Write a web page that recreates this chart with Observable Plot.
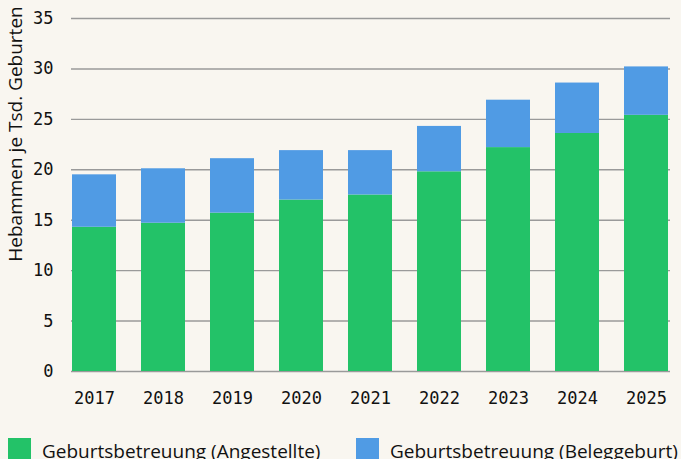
<!DOCTYPE html>
<html><head><meta charset="utf-8">
<script src="https://cdn.jsdelivr.net/npm/d3@7"></script>
<script src="https://cdn.jsdelivr.net/npm/@observablehq/plot@0.6"></script>
<style>
html,body{margin:0;padding:0;background:#f9f6f0;}
#chart{position:relative;width:681px;height:459px;overflow:hidden;background:#f9f6f0;}
#chart svg{position:absolute;left:0;top:0;}
.lg{position:absolute;top:438px;height:23px;display:flex;align-items:flex-start;font-family:"Open Sans";font-size:19px;color:#111;white-space:nowrap;}
.sw{width:23px;height:23px;margin-right:11px;flex:none;}
.lt{line-height:23px;margin-top:2px;}
</style></head><body><div id="chart"></div>
<script>
const years = ["2017","2018","2019","2020","2021","2022","2023","2024","2025"];
const angestellte = [14.3,14.7,15.7,17.0,17.5,19.8,22.2,23.6,25.4];
const beleggeburt = [5.2,5.4,5.4,4.9,4.4,4.5,4.7,5.0,4.8];
const series = ["Geburtsbetreuung (Angestellte)","Geburtsbetreuung (Beleggeburt)"];
const colors = ["#23c268","#509be4"];
const yTicks = [0,5,10,15,20,25,30,35];
const yLabel = "Hebammen je Tsd. Geburten";

const data = [];
years.forEach((y,i)=>{
  data.push({year:y, series:series[0], value:angestellte[i]});
  data.push({year:y, series:series[1], value:beleggeburt[i]});
});

const plot = Plot.plot({
  width:681, height:420,
  marginLeft:71, marginRight:11, marginTop:18, marginBottom:49,
  style:{background:"transparent", fontFamily:"DejaVu Sans Mono", fontSize:"17px", color:"#111", overflow:"visible"},
  x:{domain:years, paddingInner:0.36, paddingOuter:0, label:null},
  y:{domain:[0,35], label:null},
  color:{domain:series, range:colors},
  marks:[
    Plot.ruleY(yTicks, {stroke:"#9a9a9a", strokeWidth:1.4}),
    Plot.barY(data, {x:"year", y:"value", fill:"series", order:series}),
    Plot.axisX({tickSize:0, tickPadding:20, label:null}),
    Plot.axisY({ticks:yTicks, tickSize:0, tickPadding:18, label:null}),
    Plot.text([yLabel], {text:d=>d, frameAnchor:"left", textAnchor:"middle", lineAnchor:"middle", rotate:-90, dx:-56, dy:-61, fontFamily:"Open Sans", fontSize:19, fill:"#111"})
  ]
});
const chart = document.getElementById("chart");
chart.appendChild(plot);
const lx = [8, 356];
series.forEach((s,i)=>{
  const d = document.createElement("div");
  d.className = "lg";
  d.style.left = lx[i]+"px";
  d.innerHTML = `<div class="sw" style="background:${colors[i]}"></div><div class="lt"></div>`;
  d.querySelector(".lt").textContent = s;
  chart.appendChild(d);
});
</script>
</body></html>
